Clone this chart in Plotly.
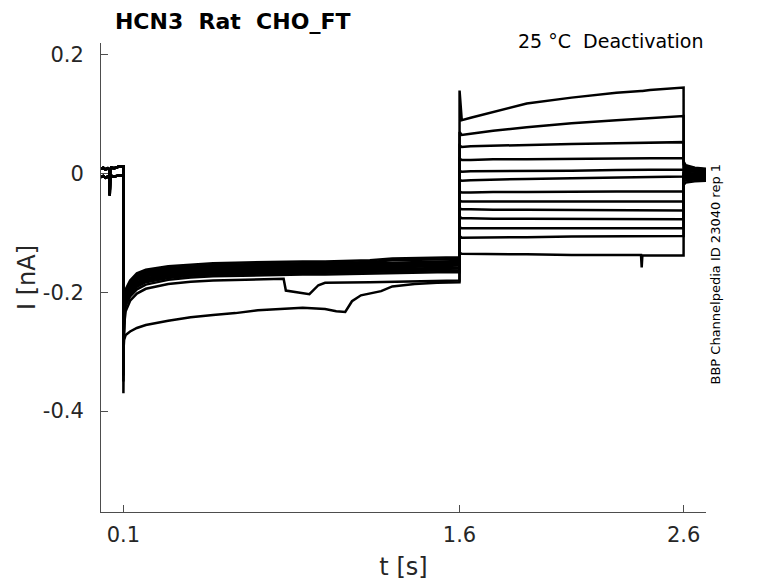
import plotly.graph_objects as go

# HCN3 deactivation sweeps (nA vs s)

# holding segment before the conditioning step (upper / lower edge of the noisy block)
t_pre = [0.0, 0.01, 0.02, 0.03, 0.037, 0.039, 0.041, 0.045, 0.06, 0.08, 0.0998]
i_pre_a = [0.008, 0.01, 0.007, 0.009, 0.006, -0.03, 0.006, 0.01, 0.009, 0.012, 0.012]
i_pre_b = [-0.006, -0.004, -0.007, -0.005, -0.007, -0.037, -0.006, -0.004, -0.005, -0.003, -0.003]

# conditioning step, most sweeps share this grid
t_cond = [0.1, 0.1003, 0.103, 0.11, 0.13, 0.16, 0.2, 0.3, 0.4, 0.5, 0.6,
          0.7, 0.8, 0.9, 1.0, 1.1, 1.2, 1.3, 1.4, 1.5, 1.6]
cond_band = [
    [-0.37, -0.24, -0.215, -0.195, -0.18, -0.168, -0.162, -0.156, -0.153, -0.151, -0.15,
     -0.149, -0.148, -0.148, -0.148, -0.147, -0.146, -0.143, -0.142, -0.142, -0.141],
    [-0.35, -0.245, -0.218, -0.198, -0.183, -0.171, -0.165, -0.159, -0.156, -0.154, -0.153,
     -0.152, -0.151, -0.151, -0.151, -0.15, -0.149, -0.146, -0.145, -0.145, -0.144],
    [-0.34, -0.248, -0.221, -0.2, -0.185, -0.173, -0.167, -0.161, -0.158, -0.156, -0.155,
     -0.154, -0.153, -0.153, -0.153, -0.152, -0.151, -0.149, -0.148, -0.147, -0.147],
    [-0.33, -0.25, -0.224, -0.203, -0.188, -0.176, -0.169, -0.163, -0.16, -0.158, -0.157,
     -0.156, -0.155, -0.155, -0.155, -0.154, -0.153, -0.151, -0.15, -0.149, -0.149],
    [-0.33, -0.252, -0.226, -0.205, -0.19, -0.178, -0.171, -0.165, -0.162, -0.16, -0.159,
     -0.158, -0.157, -0.157, -0.157, -0.156, -0.155, -0.153, -0.152, -0.152, -0.151],
    [-0.32, -0.255, -0.228, -0.207, -0.192, -0.18, -0.173, -0.167, -0.164, -0.162, -0.161,
     -0.16, -0.159, -0.159, -0.159, -0.158, -0.157, -0.155, -0.154, -0.154, -0.153],
    [-0.32, -0.257, -0.23, -0.21, -0.195, -0.183, -0.176, -0.169, -0.166, -0.164, -0.163,
     -0.162, -0.161, -0.161, -0.161, -0.16, -0.159, -0.157, -0.156, -0.156, -0.155],
    [-0.31, -0.26, -0.233, -0.212, -0.197, -0.185, -0.178, -0.171, -0.168, -0.166, -0.165,
     -0.164, -0.163, -0.163, -0.163, -0.162, -0.161, -0.16, -0.159, -0.158, -0.158],
    [-0.31, -0.262, -0.236, -0.215, -0.2, -0.188, -0.18, -0.173, -0.17, -0.168, -0.167,
     -0.166, -0.165, -0.165, -0.165, -0.164, -0.163, -0.162, -0.161, -0.16, -0.16],
    [-0.30, -0.265, -0.239, -0.218, -0.203, -0.191, -0.183, -0.176, -0.172, -0.17, -0.169,
     -0.168, -0.167, -0.167, -0.167, -0.166, -0.166, -0.165, -0.164, -0.163, -0.163],
    [-0.30, -0.268, -0.242, -0.222, -0.207, -0.195, -0.187, -0.179, -0.175, -0.173, -0.172,
     -0.171, -0.17, -0.17, -0.17, -0.169, -0.169, -0.168, -0.167, -0.166, -0.166],
]

# the two sweeps that run below the band
t_cond_low = [0.1, 0.1003, 0.103, 0.11, 0.13, 0.16, 0.2, 0.3, 0.4, 0.5, 0.6, 0.7, 0.8,
              0.9, 1.0, 1.05, 1.09, 1.12, 1.16, 1.25, 1.3, 1.4, 1.5, 1.6]
i_cond_low = [-0.30, -0.29, -0.28, -0.272, -0.266, -0.26, -0.255, -0.248, -0.242, -0.238,
              -0.235, -0.23, -0.228, -0.226, -0.228, -0.232, -0.233, -0.215, -0.205, -0.198,
              -0.19, -0.186, -0.184, -0.183]
t_cond_drop = [0.1, 0.1003, 0.103, 0.11, 0.13, 0.16, 0.2, 0.3, 0.4, 0.5, 0.6, 0.7, 0.8,
               0.815, 0.825, 0.87, 0.93, 0.97, 1.0, 1.2, 1.4, 1.6]
i_cond_drop = [-0.30, -0.28, -0.255, -0.232, -0.214, -0.202, -0.194, -0.186, -0.182, -0.18,
               -0.179, -0.178, -0.177, -0.177, -0.197, -0.2, -0.203, -0.188, -0.184, -0.183,
               -0.182, -0.18]

# test step (tail currents), one list per sweep, top to bottom
t_test = [1.6002, 1.61, 1.65, 1.75, 1.9, 2.1, 2.3, 2.41, 2.413, 2.416, 2.45, 2.6]
test_vals = [
    [0.14, 0.09, 0.094, 0.104, 0.118, 0.128, 0.136, 0.139, 0.139, 0.139, 0.141, 0.145],
    [0.07, 0.065, 0.067, 0.072, 0.078, 0.085, 0.09, 0.093, 0.093, 0.093, 0.094, 0.097],
    [0.047, 0.045, 0.046, 0.047, 0.048, 0.05, 0.051, 0.052, 0.052, 0.052, 0.052, 0.053],
    [0.025, 0.023, 0.023, 0.024, 0.024, 0.025, 0.025, 0.026, 0.026, 0.026, 0.026, 0.026],
    [0.005, 0.003, 0.004, 0.004, 0.005, 0.005, 0.006, 0.006, 0.006, 0.006, 0.006, 0.007],
    [-0.01, -0.012, -0.011, -0.01, -0.009, -0.008, -0.007, -0.006, -0.006, -0.006, -0.006, -0.005],
    [-0.03, -0.032, -0.032, -0.031, -0.031, -0.03, -0.03, -0.03, -0.03, -0.03, -0.03, -0.03],
    [-0.045, -0.047, -0.047, -0.047, -0.047, -0.046, -0.047, -0.047, -0.047, -0.047, -0.047, -0.047],
    [-0.058, -0.06, -0.06, -0.061, -0.061, -0.061, -0.062, -0.062, -0.062, -0.062, -0.062, -0.062],
    [-0.073, -0.075, -0.075, -0.076, -0.076, -0.076, -0.077, -0.077, -0.077, -0.077, -0.077, -0.077],
    [-0.09, -0.092, -0.092, -0.092, -0.092, -0.092, -0.092, -0.092, -0.092, -0.092, -0.092, -0.092],
    [-0.105, -0.108, -0.108, -0.107, -0.107, -0.106, -0.106, -0.105, -0.105, -0.105, -0.105, -0.105],
    [-0.133, -0.135, -0.135, -0.136, -0.136, -0.137, -0.137, -0.137, -0.158, -0.138, -0.138, -0.138],
]

# back to holding after the test step
t_post = [2.6002, 2.61, 2.65, 2.7]
post_vals = [
    [0.02, 0.014, 0.01, 0.008], [0.016, 0.012, 0.009, 0.007], [0.013, 0.01, 0.008, 0.006],
    [0.01, 0.008, 0.006, 0.005], [0.008, 0.006, 0.004, 0.004], [0.005, 0.004, 0.003, 0.002],
    [0.002, 0.001, 0.0, 0.0], [0.0, -0.001, -0.002, -0.002], [-0.003, -0.004, -0.004, -0.004],
    [-0.006, -0.006, -0.006, -0.005], [-0.009, -0.008, -0.008, -0.007],
    [-0.013, -0.011, -0.01, -0.009], [-0.019, -0.015, -0.013, -0.012],
]

x_ticks = [0.1, 1.6, 2.6]
x_labels = ['0.1', '1.6', '2.6']
y_ticks = [0.2, 0, -0.2, -0.4]
y_labels = ['0.2', '0', '-0.2', '-0.4']

FONT = 'DejaVu Sans'
TXT = '#262626'
AXC = '#4d4d4d'

# which conditioning sweep goes with which test sweep
cond_sets = [(t_cond, c) for c in cond_band[:6]] + [(t_cond_low, i_cond_low)] + \
            [(t_cond, c) for c in cond_band[6:9]] + [(t_cond_drop, i_cond_drop)] + \
            [(t_cond, c) for c in cond_band[9:]]

fig = go.Figure()
for k in range(len(test_vals)):
    tc, ic = cond_sets[k]
    ip = i_pre_a if k % 2 == 0 else i_pre_b
    t = t_pre + tc + t_test + t_post
    y = ip + ic + test_vals[k] + post_vals[k]
    fig.add_scatter(x=t, y=y, mode='lines', line=dict(color='black', width=2.5),
                    showlegend=False, hoverinfo='skip')

axis_common = dict(showgrid=False, zeroline=False, showline=True, linecolor=AXC,
                   linewidth=1, ticks='inside', ticklen=7, tickcolor=AXC,
                   tickfont=dict(family=FONT, size=21, color=TXT),
                   automargin=False)

# the page has an 8 px body margin, so the figure is 8 px smaller each way
fig.update_layout(
    width=770, height=575,
    margin=dict(l=93, r=72, t=35, b=71),
    plot_bgcolor='white', paper_bgcolor='white',
    font=dict(family=FONT, color=TXT),
    xaxis=dict(range=[0, 2.7], tickvals=x_ticks, ticktext=x_labels, ticklabelstandoff=4,
               title=dict(text='t [s]', font=dict(family=FONT, size=24, color=TXT), standoff=11),
               **axis_common),
    yaxis=dict(range=[-0.57, 0.22], tickvals=y_ticks, ticktext=y_labels, ticklabelstandoff=12,
               title=dict(text='I [nA]', font=dict(family=FONT, size=24, color=TXT), standoff=0),
               **axis_common),
    title=dict(text='HCN3  Rat  CHO_FT', xref='paper', x=0.023, xanchor='left',
               yref='container', y=1 - 13 / 575, yanchor='middle',
               font=dict(family=FONT, size=22, color='black', weight='bold')),
)

fig.add_annotation(text='25 °C  Deactivation', xref='paper', yref='paper',
                   x=0.999, y=1.004, xanchor='right', yanchor='middle', showarrow=False,
                   font=dict(family=FONT, size=19, color='black'))
fig.add_annotation(text='BBP Channelpedia ID 23040 rep 1', xref='paper', yref='paper',
                   x=1.0165, y=0.5085, xanchor='center', yanchor='middle', showarrow=False,
                   textangle=-90, font=dict(family=FONT, size=13, color='black'))

fig.write_html('out.html')
